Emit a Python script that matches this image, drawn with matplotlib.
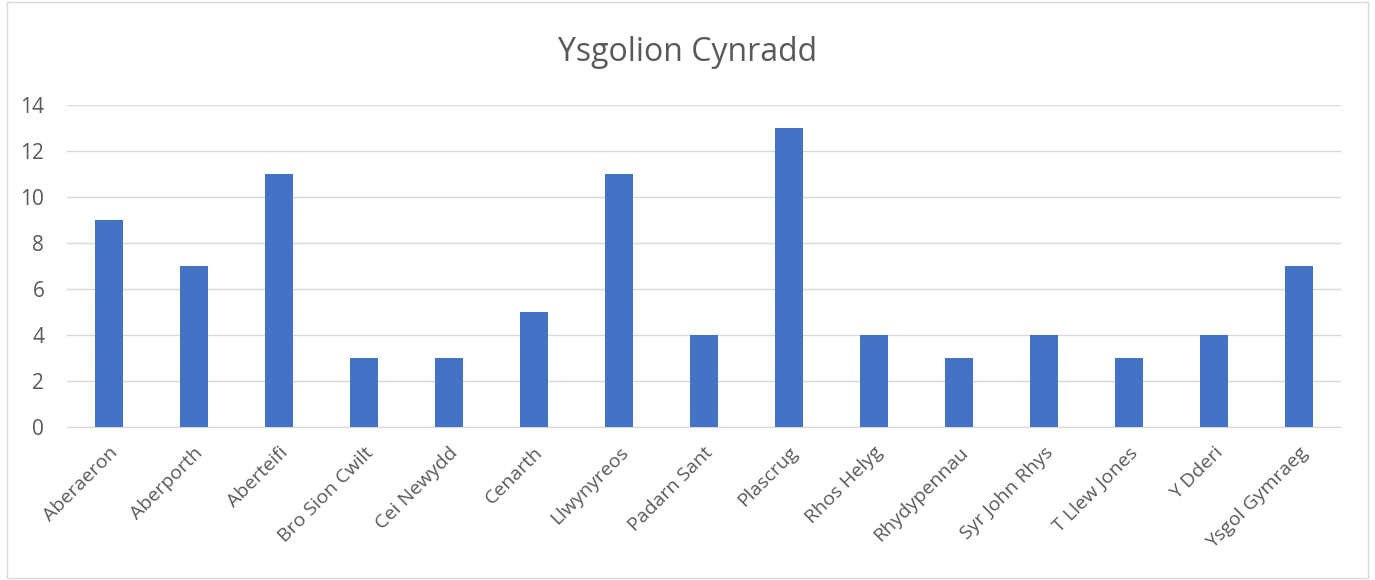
import matplotlib
matplotlib.use("Agg")
import matplotlib.pyplot as plt
import numpy as np

schools = ["Aberaeron", "Aberporth", "Aberteifi", "Bro Sion Cwilt", "Cei Newydd",
           "Cenarth", "Llwynyreos", "Padarn Sant", "Plascrug", "Rhos Helyg",
           "Rhydypennau", "Syr John Rhys", "T Llew Jones", "Y Dderi", "Ysgol Gymraeg"]
counts = [9, 7, 11, 3, 3, 5, 11, 4, 13, 4, 3, 4, 3, 4, 7]

plt.rcParams['font.family'] = ['Open Sans', 'DejaVu Sans']

fig = plt.figure(figsize=(13.75, 5.8), dpi=100)
ax = fig.add_axes([0.0484, 0.264, 0.927, 0.555])

x = np.arange(len(schools))
ax.bar(x, counts, width=0.33, color="#4472C4", zorder=3)

ax.set_xlim(-0.5, len(schools) - 0.5)
ax.set_ylim(0, 14)
ax.set_yticks(range(0, 15, 2))
ax.set_xticks(x)
ax.set_xticklabels(schools, rotation=45, ha="right", rotation_mode="anchor")
ax.tick_params(axis="both", length=0, colors="#595959")
ax.tick_params(axis="x", pad=12, labelsize=14)
ax.tick_params(axis="y", pad=16, labelsize=15)
ax.yaxis.grid(True, color="#D9D9D9", linewidth=1, zorder=0)
for s in ["top", "right", "left"]:
    ax.spines[s].set_visible(False)
ax.spines["bottom"].set_color("#D9D9D9")

fig.text(0.5, 0.91, "Ysgolion Cynradd", ha="center", va="center",
         fontsize=23, color="#595959")

border = plt.Rectangle((0.005, 0.004), 0.99, 0.992, transform=fig.transFigure,
                       fill=False, edgecolor="#D9D9D9", linewidth=1)
fig.patches.append(border)

fig.savefig("out.png", dpi=100)
